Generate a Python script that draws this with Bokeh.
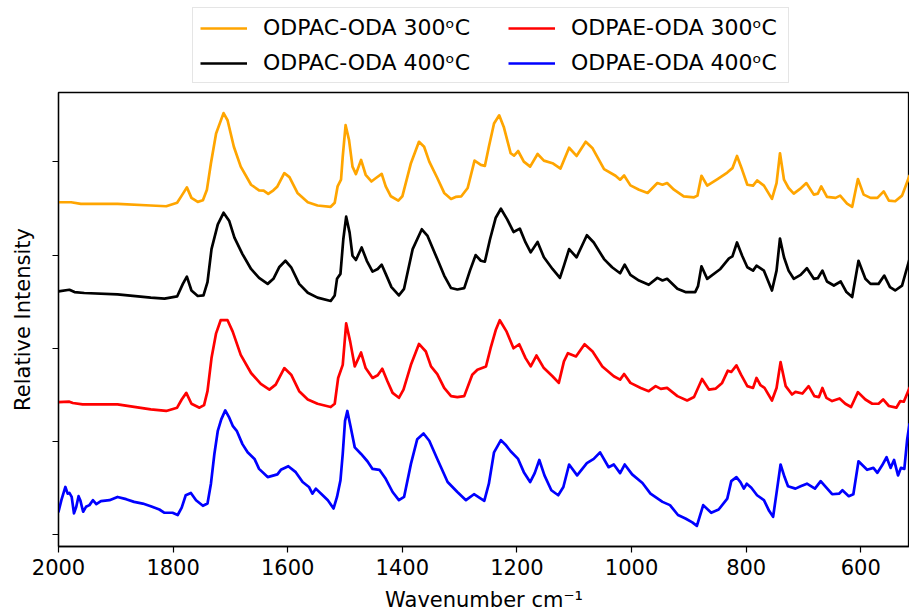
from bokeh.plotting import figure
from bokeh.models import Range1d, Legend, LegendItem, FixedTicker
from bokeh.layouts import column
from bokeh.embed import file_html
from bokeh.resources import INLINE

# ---- data ----
wn_odpac_300 = [2000, 1978, 1961, 1897, 1839, 1812, 1793, 1785, 1776, 1768, 1757, 1748, 1741, 1734, 1725,
                1712, 1705, 1694, 1682, 1664, 1650, 1642, 1634, 1625, 1618, 1606, 1597, 1583, 1565, 1548,
                1525, 1518, 1513, 1507, 1504, 1499, 1493, 1487, 1481, 1472, 1464, 1454, 1446, 1436, 1429,
                1420, 1407, 1400, 1385, 1371, 1362, 1353, 1339, 1327, 1315, 1307, 1297, 1286, 1274, 1263,
                1256, 1249, 1240, 1231, 1223, 1211, 1205, 1198, 1188, 1177, 1164, 1153, 1138, 1124, 1109,
                1096, 1080, 1068, 1048, 1028, 1020, 1013, 1002, 987, 972, 955, 946, 938, 926, 909, 891,
                885, 878, 868, 850, 833, 824, 816, 807, 798, 788, 781, 769, 755, 747, 741, 734, 726, 717,
                706, 695, 682, 675, 669, 659, 644, 636, 624, 615, 605, 595, 583, 571, 560, 551, 540, 528, 515]
int_odpac_300 = [3.567, 3.567, 3.550, 3.550, 3.532, 3.524, 3.561, 3.638, 3.727, 3.614, 3.571, 3.588, 3.702, 3.986, 4.305,
                 4.524, 4.447, 4.163, 3.950, 3.755, 3.695, 3.691, 3.656, 3.695, 3.737, 3.880, 3.837, 3.667, 3.567, 3.532,
                 3.518, 3.561, 3.737, 3.809, 4.056, 4.394, 4.234, 3.950, 3.869, 4.021, 3.862, 3.790, 3.827, 3.872, 3.737,
                 3.631, 3.585, 3.631, 3.986, 4.216, 4.163, 4.003, 3.827, 3.667, 3.603, 3.624, 3.631, 3.720, 4.014, 3.968,
                 3.957, 4.163, 4.412, 4.500, 4.376, 4.093, 4.067, 4.117, 4.003, 3.950, 4.085, 4.014, 3.986, 3.929, 4.152,
                 4.064, 4.216, 4.146, 3.922, 3.851, 3.809, 3.854, 3.748, 3.702, 3.667, 3.773, 3.755, 3.773, 3.702, 3.631, 3.620,
                 3.638, 3.851, 3.745, 3.816, 3.886, 3.933, 4.064, 3.915, 3.755, 3.745, 3.801, 3.745, 3.603, 3.773, 4.093, 3.809, 3.720, 3.660,
                 3.710, 3.773, 3.649, 3.660, 3.737, 3.624, 3.614, 3.638, 3.553, 3.518, 3.816, 3.649, 3.614, 3.614, 3.684, 3.585, 3.578, 3.638, 3.851]

wn_odpac_400 = [2000, 1981, 1972, 1955, 1897, 1839, 1815, 1793, 1783, 1776, 1768, 1757, 1747, 1740, 1733,
                1722, 1712, 1702, 1693, 1679, 1664, 1650, 1635, 1625, 1615, 1604, 1594, 1580, 1565, 1548,
                1525, 1518, 1514, 1508, 1503, 1498, 1492, 1487, 1481, 1471, 1462, 1452, 1443, 1436, 1429,
                1419, 1406, 1397, 1382, 1366, 1356, 1339, 1327, 1315, 1304, 1292, 1282, 1272, 1263, 1256,
                1247, 1237, 1228, 1217, 1206, 1195, 1185, 1176, 1164, 1153, 1138, 1125, 1118, 1109, 1096,
                1078, 1066, 1048, 1034, 1020, 1012, 1002, 987, 970, 955, 946, 938, 920, 906, 889, 884,
                878, 868, 845, 830, 824, 816, 807, 798, 788, 782, 769, 755, 747, 741, 734, 726, 717, 705,
                694, 682, 675, 667, 659, 647, 635, 625, 615, 604, 592, 583, 569, 559, 549, 540, 528, 515]
int_odpac_400 = [2.610, 2.628, 2.603, 2.593, 2.578, 2.543, 2.532, 2.556, 2.691, 2.769, 2.620, 2.561, 2.567, 2.710, 3.064,
                 3.330, 3.454, 3.365, 3.188, 3.011, 2.851, 2.755, 2.691, 2.745, 2.869, 2.939, 2.869, 2.691, 2.596, 2.543,
                 2.507, 2.567, 2.745, 2.798, 3.170, 3.412, 3.241, 2.993, 2.947, 3.082, 2.939, 2.822, 2.851, 2.897, 2.798,
                 2.656, 2.567, 2.638, 3.064, 3.277, 3.205, 2.957, 2.780, 2.646, 2.631, 2.646, 2.833, 3.000, 2.939, 2.929,
                 3.170, 3.401, 3.497, 3.383, 3.248, 3.284, 3.135, 3.029, 3.141, 2.976, 2.851, 2.755, 2.886, 3.064, 2.976,
                 3.213, 3.135, 2.957, 2.869, 2.805, 2.897, 2.787, 2.727, 2.681, 2.755, 2.727, 2.745, 2.638, 2.603, 2.603, 2.667,
                 2.880, 2.745, 2.851, 2.965, 2.986, 3.135, 2.993, 2.869, 2.833, 2.886, 2.833, 2.620, 2.833, 3.178, 2.976, 2.833, 2.745, 2.787,
                 2.859, 2.745, 2.752, 2.833, 2.716, 2.673, 2.716, 2.603, 2.550, 2.939, 2.745, 2.691, 2.691, 2.780, 2.656, 2.620, 2.673, 2.957]

wn_odpae_300 = [2000, 1981, 1975, 1958, 1897, 1839, 1812, 1793, 1785, 1777, 1768, 1754, 1746, 1740, 1733,
                1725, 1717, 1705, 1696, 1682, 1664, 1647, 1632, 1621, 1606, 1594, 1580, 1565, 1548, 1525,
                1518, 1512, 1504, 1498, 1491, 1483, 1472, 1464, 1452, 1443, 1435, 1426, 1417, 1406, 1398,
                1385, 1371, 1359, 1350, 1339, 1327, 1315, 1304, 1292, 1278, 1269, 1254, 1246, 1237, 1230,
                1218, 1206, 1196, 1185, 1176, 1166, 1153, 1138, 1127, 1118, 1111, 1097, 1082, 1068, 1051,
                1031, 1020, 1013, 1002, 984, 970, 958, 949, 938, 920, 903, 891, 877, 865, 853, 842, 832,
                826, 817, 809, 798, 788, 782, 775, 768, 755, 747, 740, 731, 720, 714, 702, 691, 681, 673,
                667, 660, 650, 637, 627, 617, 605, 592, 580, 569, 561, 551, 538, 531, 525, 515]
int_odpae_300 = [1.422, 1.426, 1.412, 1.397, 1.397, 1.344, 1.327, 1.362, 1.450, 1.521, 1.404, 1.362, 1.390, 1.539, 1.894,
                 2.160, 2.301, 2.301, 2.178, 1.929, 1.734, 1.617, 1.556, 1.610, 1.787, 1.716, 1.539, 1.450, 1.404, 1.369,
                 1.404, 1.681, 1.822, 2.266, 2.071, 1.805, 1.954, 1.787, 1.681, 1.710, 1.780, 1.646, 1.521, 1.468, 1.556,
                 1.822, 2.046, 1.965, 1.805, 1.723, 1.574, 1.486, 1.476, 1.486, 1.716, 1.769, 1.805, 2.000, 2.195, 2.301,
                 2.178, 2.000, 2.043, 1.894, 1.805, 1.922, 1.787, 1.699, 1.628, 1.859, 1.947, 1.912, 2.043, 1.965, 1.805,
                 1.699, 1.663, 1.723, 1.628, 1.574, 1.539, 1.593, 1.564, 1.574, 1.486, 1.439, 1.476, 1.670, 1.556, 1.567, 1.628, 1.759,
                 1.745, 1.816, 1.716, 1.593, 1.574, 1.681, 1.603, 1.574, 1.439, 1.574, 1.851, 1.593, 1.503, 1.532, 1.514, 1.593, 1.486, 1.476,
                 1.574, 1.468, 1.433, 1.461, 1.404, 1.369, 1.529, 1.450, 1.404, 1.404, 1.450, 1.380, 1.362, 1.433, 1.426, 1.574]

wn_odpae_400 = [2000, 1995, 1988, 1984, 1981, 1977, 1973, 1969, 1965, 1962, 1957, 1952, 1946, 1940, 1934,
                1926, 1911, 1897, 1882, 1868, 1853, 1839, 1824, 1815, 1801, 1792, 1785, 1778, 1769, 1760,
                1748, 1740, 1734, 1728, 1722, 1716, 1709, 1702, 1696, 1689, 1679, 1670, 1658, 1650, 1635,
                1618, 1612, 1599, 1586, 1574, 1563, 1557, 1551, 1539, 1530, 1520, 1514, 1508, 1504, 1500,
                1496, 1490, 1483, 1472, 1461, 1452, 1440, 1429, 1417, 1406, 1397, 1385, 1374, 1363, 1353,
                1339, 1321, 1304, 1289, 1275, 1257, 1249, 1240, 1228, 1220, 1211, 1198, 1188, 1177, 1169,
                1161, 1152, 1140, 1128, 1119, 1109, 1095, 1078, 1066, 1055, 1040, 1031, 1020, 1012, 999,
                981, 967, 946, 933, 919, 906, 894, 886, 875, 861, 848, 833, 826, 817, 810, 804, 799, 791,
                781, 769, 760, 753, 747, 740, 733, 727, 714, 705, 694, 680, 670, 662, 650, 638, 632, 621,
                613, 604, 589, 578, 571, 563, 555, 548, 542, 535, 530, 524, 519, 515]
int_odpae_400 = [0.245, 0.369, 0.511, 0.439, 0.447, 0.404, 0.227, 0.298, 0.412, 0.369, 0.245, 0.298, 0.316, 0.369, 0.327,
                 0.359, 0.369, 0.404, 0.380, 0.351, 0.333, 0.305, 0.269, 0.234, 0.234, 0.210, 0.290, 0.422, 0.447, 0.369,
                 0.309, 0.333, 0.546, 0.865, 1.114, 1.237, 1.333, 1.255, 1.167, 1.114, 0.971, 0.883, 0.812, 0.705, 0.617,
                 0.646, 0.695, 0.734, 0.670, 0.564, 0.511, 0.439, 0.493, 0.422, 0.369, 0.280, 0.404, 0.582, 0.865, 1.220,
                 1.327, 1.149, 0.936, 0.865, 0.787, 0.705, 0.695, 0.599, 0.457, 0.369, 0.404, 0.759, 1.024, 1.085, 1.007,
                 0.812, 0.564, 0.457, 0.369, 0.433, 0.362, 0.546, 0.883, 1.014, 0.965, 0.894, 0.812, 0.670, 0.564, 0.660,
                 0.801, 0.635, 0.476, 0.422, 0.511, 0.752, 0.635, 0.766, 0.812, 0.883, 0.723, 0.752, 0.660, 0.752, 0.646,
                 0.553, 0.439, 0.351, 0.316, 0.210, 0.173, 0.131, 0.093, 0.316, 0.234, 0.269, 0.386, 0.574, 0.617, 0.564, 0.493, 0.546, 0.503,
                 0.422, 0.369, 0.255, 0.191, 0.447, 0.752, 0.617, 0.518, 0.493, 0.518, 0.546, 0.493, 0.574, 0.518, 0.433, 0.439, 0.476, 0.412,
                 0.433, 0.787, 0.695, 0.716, 0.663, 0.741, 0.830, 0.716, 0.801, 0.635, 0.716, 0.705, 1.024, 1.184]

series_labels = ["ODPAC-ODA 300\u1d52C", "ODPAC-ODA 400\u1d52C",
                 "ODPAE-ODA 300\u1d52C", "ODPAE-ODA 400\u1d52C"]
series_colors = ["orange", "black", "red", "blue"]
x_ticks = [2000, 1800, 1600, 1400, 1200, 1000, 800, 600]
y_ticks = [0, 1, 2, 3, 4]

FONT = "DejaVu Sans"
FS = "21px"
LFS = "22px"
LW = 2.7

# ---- main plot ----
p = figure(width=909, height=524, output_backend="svg", toolbar_location=None,
           x_range=Range1d(2000, 515), y_range=Range1d(-0.128, 4.745),
           min_border_left=58, min_border_right=0, min_border_top=2, min_border_bottom=64)
p.background_fill_color = "white"
p.border_fill_color = "white"
p.outline_line_color = "black"
p.outline_line_width = 1.3
p.xgrid.visible = False
p.ygrid.visible = False

series = [(wn_odpac_300, int_odpac_300), (wn_odpac_400, int_odpac_400),
          (wn_odpae_300, int_odpae_300), (wn_odpae_400, int_odpae_400)]
for (xs, ys), c in zip(series, series_colors):
    p.line(xs, ys, line_color=c, line_width=LW, line_join="round", line_cap="round")

for ax in (p.xaxis[0], p.yaxis[0]):
    ax.axis_line_color = "black"
    ax.axis_line_width = 1.3
    ax.major_tick_line_color = "black"
    ax.major_tick_line_width = 1.2
    ax.major_tick_out = 6
    ax.major_tick_in = 0
    ax.minor_tick_line_color = None
    ax.major_label_text_font = FONT
    ax.major_label_text_font_size = FS
    ax.major_label_text_color = "black"
    ax.axis_label_text_font = FONT
    ax.axis_label_text_font_size = FS
    ax.axis_label_text_font_style = "normal"
    ax.axis_label_text_color = "black"

p.xaxis.ticker = FixedTicker(ticks=x_ticks)
p.xaxis.axis_label = "Wavenumber cm\u207b\u00b9"
p.xaxis.major_label_standoff = 6
p.xaxis.axis_label_standoff = 10

p.yaxis.ticker = FixedTicker(ticks=y_ticks)
p.yaxis.major_label_overrides = {t: "" for t in y_ticks}
p.yaxis.axis_label = "Relative Intensity"
p.yaxis.major_label_standoff = 0
p.yaxis.axis_label_standoff = 18

# ---- legend strip above the plot ----
lg = figure(width=909, height=90, output_backend="svg", toolbar_location=None,
            x_range=Range1d(0, 1), y_range=Range1d(0, 1),
            x_axis_type=None, y_axis_type=None,
            min_border_left=0, min_border_right=0, min_border_top=0, min_border_bottom=0)
lg.outline_line_color = None
lg.xgrid.visible = False
lg.ygrid.visible = False
lg.background_fill_color = "white"
lg.border_fill_color = "white"

nan = float("nan")
handles = []
for c in series_colors:
    handles.append(lg.line([nan, nan], [nan, nan], line_color=c, line_width=LW))

common = dict(label_text_font=FONT, label_text_font_size=LFS, label_text_color="black",
              label_height=24, glyph_height=24, glyph_width=47,
              label_standoff=16, spacing=10, padding=7, margin=0)

# left column (its frame spans the whole legend box)
legend_a = Legend(items=[LegendItem(label=series_labels[0], renderers=[handles[0]]),
                         LegendItem(label=series_labels[1], renderers=[handles[1]])],
                  location=(134, 7), label_width=518,
                  border_line_color="#cccccc", border_line_width=1.2,
                  background_fill_color="white", background_fill_alpha=0.8, **common)
# right column
legend_b = Legend(items=[LegendItem(label=series_labels[2], renderers=[handles[2]]),
                         LegendItem(label=series_labels[3], renderers=[handles[3]])],
                  location=(450, 15),
                  border_line_color=None, background_fill_alpha=0.0, **common)
lg.add_layout(legend_a)
lg.add_layout(legend_b)

page = column(lg, p, spacing=0)
open("out.html", "w").write(file_html(page, INLINE))
